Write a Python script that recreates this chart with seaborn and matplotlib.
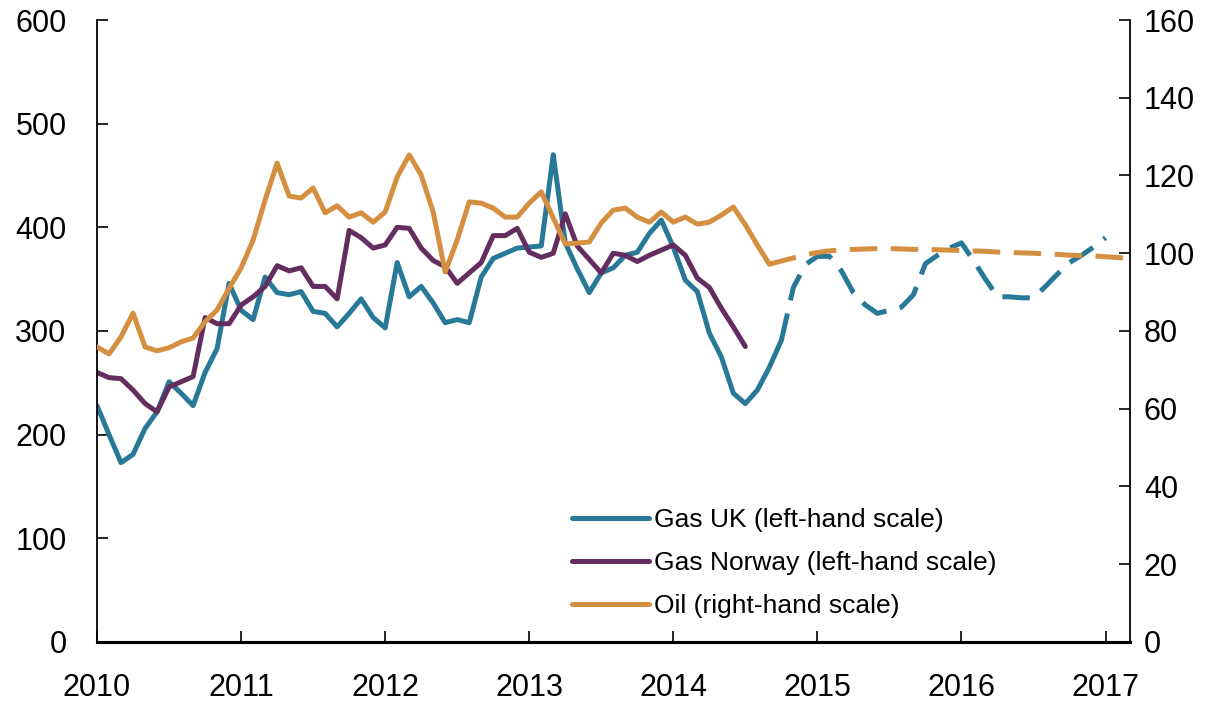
import numpy as np
import pandas as pd
import seaborn as sns
import matplotlib.pyplot as plt

# monthly values from Jan 2010
gas_uk = [228, 200, 173, 181, 206, 222, 251, 240, 228, 260, 283, 346,
          320, 311, 352, 337, 335, 338, 319, 317, 304, 317, 331, 313,
          303, 366, 333, 343, 327, 308, 311, 308, 352, 370, 375, 380,
          381, 382, 470, 385, 360, 337, 356, 361, 373, 376, 394, 407,
          381, 349, 338, 298, 275, 240, 230, 243, 265, 291]
# forward prices, starting Oct 2014
gas_uk_fwd = [291, 342, 364, 372, 372, 358, 337, 325, 317, 320, 323, 335,
              365, 373, 380, 385, 368, 350, 333, 333, 332, 332, 343, 355,
              366, 373, 381, 390]
gas_norway = [260, 255, 254, 243, 230, 222, 246, 251, 256, 313, 307, 307,
              325, 333, 343, 363, 358, 361, 343, 343, 331, 397, 390, 380,
              383, 400, 399, 380, 368, 362, 346, 356, 366, 392, 392, 399,
              376, 371, 375, 413, 382, 369, 356, 375, 373, 367, 373, 378,
              383, 373, 351, 342, 322, 304, 285]
oil = [75.9, 74.1, 78.5, 84.6, 75.9, 74.9, 75.7, 77.2, 78.2, 82.4, 85.4, 91.0,
       96.2, 103.4, 113.7, 123.2, 114.7, 114.2, 116.8, 110.4, 112.2, 109.3, 110.4, 108.0,
       110.6, 119.6, 125.3, 120.1, 110.6, 95.2, 103.4, 113.2, 112.9, 111.6, 109.3, 109.3,
       112.9, 115.8, 109.1, 102.4, 102.6, 102.9, 107.8, 111.1, 111.6, 109.3, 108.0, 110.6,
       108.0, 109.3, 107.5, 108.0, 109.8, 111.9, 107.3, 102.1, 97.2]
# forward prices, starting Sep 2014
oil_fwd = [97.2, 98.0, 98.8, 99.6, 100.2, 100.6, 100.9, 101.0, 101.1, 101.2, 101.2, 101.1,
           101.0, 101.0, 100.9, 100.8, 100.7, 100.6, 100.5, 100.3, 100.2, 100.1, 100.0, 99.8,
           99.7, 99.5, 99.4, 99.3, 99.1, 98.9, 98.7]

labels = ['Gas UK (left-hand scale)', 'Gas Norway (left-hand scale)', 'Oil (right-hand scale)']
blue, purple, orange = '#287898', '#642D5F', '#D48F40'


def months(start, n):
    return 2010 + (start + np.arange(n)) / 12.0


uk = pd.DataFrame({'year': months(0, len(gas_uk)), 'value': gas_uk})
uk_f = pd.DataFrame({'year': months(57, len(gas_uk_fwd)), 'value': gas_uk_fwd})
no = pd.DataFrame({'year': months(0, len(gas_norway)), 'value': gas_norway})
oi = pd.DataFrame({'year': months(0, len(oil)), 'value': oil})
oi_f = pd.DataFrame({'year': months(56, len(oil_fwd)), 'value': oil_fwd})

sns.set_style('ticks')
plt.rcParams['font.family'] = ['Liberation Sans', 'DejaVu Sans']
plt.rcParams['text.color'] = 'black'
plt.rcParams['xtick.color'] = 'black'
plt.rcParams['ytick.color'] = 'black'

fig = plt.figure(figsize=(12.19, 7.02), dpi=100)
ax = fig.add_axes([0.0796, 0.0855, 0.8474, 0.886])
ax2 = ax.twinx()

lw = 3.6
dash = (0, (5.5, 2.7))
sns.lineplot(data=uk, x='year', y='value', ax=ax, color=blue, lw=lw, label=labels[0])
sns.lineplot(data=uk_f, x='year', y='value', ax=ax, color=blue, lw=lw,
             linestyle=dash, legend=False)
sns.lineplot(data=no, x='year', y='value', ax=ax, color=purple, lw=lw, label=labels[1])
sns.lineplot(data=oi, x='year', y='value', ax=ax2, color=orange, lw=lw, label=labels[2])
sns.lineplot(data=oi_f, x='year', y='value', ax=ax2, color=orange, lw=lw,
             linestyle=dash, legend=False)

ax.set_xlim(2010, 2017.17)
ax.set_ylim(0, 600)
ax2.set_ylim(0, 160)
ax.set_xticks(range(2010, 2018))
ax.set_yticks(range(0, 601, 100))
ax2.set_yticks(range(0, 161, 20))
ax.set_xlabel('')
ax.set_ylabel('')
ax2.set_ylabel('')

ax.tick_params(axis='x', direction='in', length=8, width=1.2, labelsize=22, pad=22)
ax.tick_params(axis='y', direction='in', length=8, width=1.2, labelsize=22, pad=22)
ax2.tick_params(axis='y', direction='in', length=8, width=1.2, labelsize=22, pad=10)

for a in (ax, ax2):
    a.spines['top'].set_visible(False)
    for s in ('left', 'right'):
        a.spines[s].set_linewidth(1.3)
        a.spines[s].set_color('black')
    a.spines['bottom'].set_linewidth(2.2)
    a.spines['bottom'].set_color('black')
ax.spines['right'].set_visible(False)
ax2.spines['left'].set_visible(False)

h1, l1 = ax.get_legend_handles_labels()
h2, l2 = ax2.get_legend_handles_labels()
if ax2.get_legend() is not None:
    ax2.get_legend().remove()
ax.legend(h1 + h2, l1 + l2, loc='upper left', bbox_to_anchor=(0.45, 0.232),
          frameon=False, fontsize=19, handlelength=2.9, handletextpad=0.2,
          labelspacing=0.72, borderaxespad=0)

fig.savefig('out.png', dpi=100)
